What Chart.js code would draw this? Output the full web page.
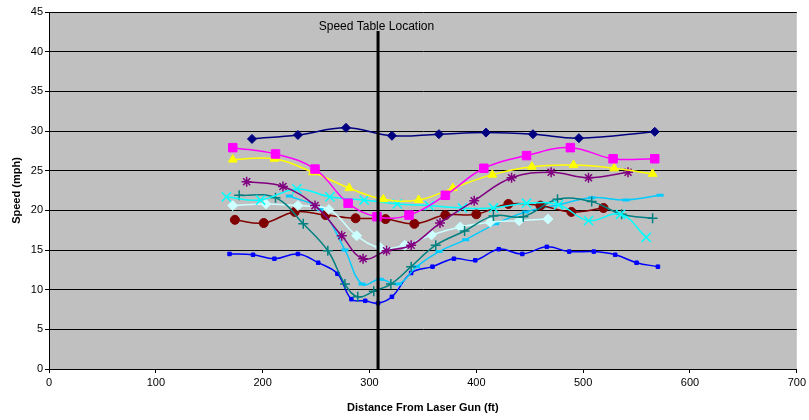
<!DOCTYPE html>
<html>
<head>
<meta charset="utf-8">
<script src="https://cdn.jsdelivr.net/npm/chart.js"></script>
<style>
  body { margin: 0; background: #fff; }
  #wrap { width: 809px; height: 420px; }
</style>
</head>
<body>
<div id="wrap"><canvas id="chart" width="809" height="420"></canvas></div>
<script>
/* Data (distance ft, speed mph) */
const navyX = [190, 233, 278, 321, 365, 409, 453, 496, 567];
const navyY = [29.0, 29.5, 30.4, 29.4, 29.6, 29.8, 29.6, 29.1, 29.9];

const magentaX = [172, 212, 249, 280, 307, 337, 371, 407, 447, 488, 528, 567];
const magentaY = [27.9, 27.1, 25.2, 20.9, 19.2, 19.4, 21.9, 25.3, 26.9, 27.9, 26.5, 26.5];

const yellowX = [172, 211, 247, 281, 313, 346, 378, 415, 452, 491, 529, 565];
const yellowY = [26.4, 26.5, 24.8, 22.8, 21.4, 21.3, 22.8, 24.5, 25.5, 25.7, 25.3, 24.6];

const purpleX = [185, 219, 249, 274, 294, 316, 339, 366, 398, 433, 470, 505, 542];
const purpleY = [23.6, 23.0, 20.6, 16.8, 13.9, 14.9, 15.6, 18.4, 21.2, 24.1, 24.8, 24.1, 24.8];

const cyanX = [166, 198, 232, 263, 295, 326, 356, 387, 416, 447, 477, 505, 535, 559];
const cyanY = [21.7, 21.3, 22.7, 21.7, 21.3, 20.8, 20.6, 20.3, 20.3, 20.9, 20.7, 18.7, 19.5, 16.6];

const tealX = [178, 212, 238, 261, 277, 289, 304, 320, 339, 362, 389, 416, 444, 476, 508, 536, 565];
const tealY = [21.9, 21.6, 18.3, 14.9, 10.7, 9.1, 9.8, 10.7, 12.9, 15.6, 17.4, 19.3, 19.2, 21.4, 21.1, 19.5, 19.0];

const paleX = [172, 203, 233, 262, 288, 310, 333, 358, 385, 413, 440, 467];
const paleY = [20.6, 20.8, 20.6, 20.1, 16.8, 15.3, 15.6, 16.9, 17.9, 18.5, 18.7, 18.9];

const redX = [174, 201, 230, 259, 287, 315, 342, 371, 400, 430, 460, 489, 519];
const redY = [18.8, 18.4, 19.8, 19.4, 19.0, 18.9, 18.3, 19.4, 19.5, 20.8, 20.6, 19.8, 20.3];

const skyX = [225, 254, 277, 293, 310, 327, 344, 365, 390, 418, 446, 477, 508, 540, 572];
const skyY = [21.8, 20.1, 15.0, 10.7, 11.3, 10.7, 12.9, 14.8, 16.3, 18.3, 19.8, 20.7, 21.6, 21.3, 21.9];

const blueX = [169, 191, 211, 233, 252, 270, 283, 296, 308, 321, 339, 359, 379, 399, 421, 443, 466, 487, 510, 530, 550, 570];
const blueY = [14.5, 14.4, 13.9, 14.5, 13.4, 12.0, 8.8, 8.6, 8.3, 9.1, 12.1, 12.9, 13.9, 13.7, 15.1, 14.5, 15.4, 14.8, 14.8, 14.4, 13.4, 12.9];

/* Speed table marker */
const tableX = [308, 308];
const tableY = [0, 42.6];
const tableLabel = "Speed Table Location";
const labelPos = { x: 306.5, y: 43.1 };

const pts = (xs, ys) => xs.map((x, i) => ({ x: x, y: ys[i] }));

function series(xs, ys, color, style, radius, bw) {
    return {
        data: pts(xs, ys),
        borderColor: color,
        backgroundColor: color,
        borderWidth: 1.5,
        pointStyle: style,
        pointRadius: radius,
        pointBorderColor: color,
        pointBackgroundColor: color,
        pointBorderWidth: bw || 1,
        showLine: true,
        tension: 0.4
    };
}

const FONT = "'Liberation Sans', Arial, sans-serif";

/* Plot background + label */
const bgPlugin = {
    id: "bg",
    beforeDraw(chart) {
        const { ctx, chartArea: a } = chart;
        ctx.save();
        ctx.fillStyle = "#C0C0C0";
        ctx.fillRect(a.left, a.top, a.right - a.left, a.bottom - a.top);
        ctx.restore();
    },
    afterDraw(chart) {
        const { ctx, scales } = chart;
        ctx.save();
        ctx.font = "12px " + FONT;
        ctx.fillStyle = "#000";
        ctx.textAlign = "center";
        ctx.textBaseline = "middle";
        ctx.fillText(tableLabel, scales.x.getPixelForValue(labelPos.x), scales.y.getPixelForValue(labelPos.y));
        ctx.restore();
    }
};

new Chart(document.getElementById("chart"), {
    type: "scatter",
    data: {
        datasets: [
            {
                data: pts(tableX, tableY),
                borderColor: "#000",
                borderWidth: 3,
                pointRadius: 0,
                showLine: true,
                tension: 0
            },
            series(navyX, navyY, "#000080", "rectRot", 4.5),
            series(magentaX, magentaY, "#FF00FF", "rect", 6),
            series(yellowX, yellowY, "#FFFF00", "triangle", 5),
            series(purpleX, purpleY, "#800080", "star", 5, 1.5),
            series(cyanX, cyanY, "#00FFFF", "crossRot", 6.5, 1.5),
            series(tealX, tealY, "#008080", "cross", 5, 1.5),
            series(paleX, paleY, "#CCFFFF", "rectRot", 5),
            series(redX, redY, "#800000", "circle", 4.5),
            series(skyX, skyY, "#00CCFF", "line", 3.5, 3),
            series(blueX, blueY, "#0000FF", "rect", 2.5)
        ]
    },
    options: {
        responsive: false,
        animation: false,
        layout: { padding: { top: 12, right: 10, left: 0, bottom: 0 } },
        plugins: { legend: { display: false }, tooltip: { enabled: false } },
        scales: {
            x: {
                type: "linear",
                min: 0,
                max: 700,
                ticks: { stepSize: 100, color: "#000", font: { family: FONT, size: 11 }, padding: 3 },
                grid: { drawOnChartArea: false, drawTicks: true, tickLength: 4, color: "#000" },
                border: { color: "#000", width: 1 },
                title: { display: true, text: "Distance From Laser Gun (ft)", color: "#000", font: { family: FONT, size: 11, weight: "bold" }, padding: 5 },
                afterFit(s) { s.height = 51; }
            },
            y: {
                min: 0,
                max: 45,
                ticks: { stepSize: 5, color: "#000", font: { family: FONT, size: 11 }, padding: 2 },
                grid: { color: "#000", lineWidth: 1, tickLength: 4 },
                border: { color: "#000", width: 1 },
                title: { display: true, text: "Speed (mph)", color: "#000", font: { family: FONT, size: 11, weight: "bold" }, padding: 10 },
                afterFit(s) { s.width = 49; }
            }
        }
    },
    plugins: [bgPlugin]
});
</script>
</body>
</html>
